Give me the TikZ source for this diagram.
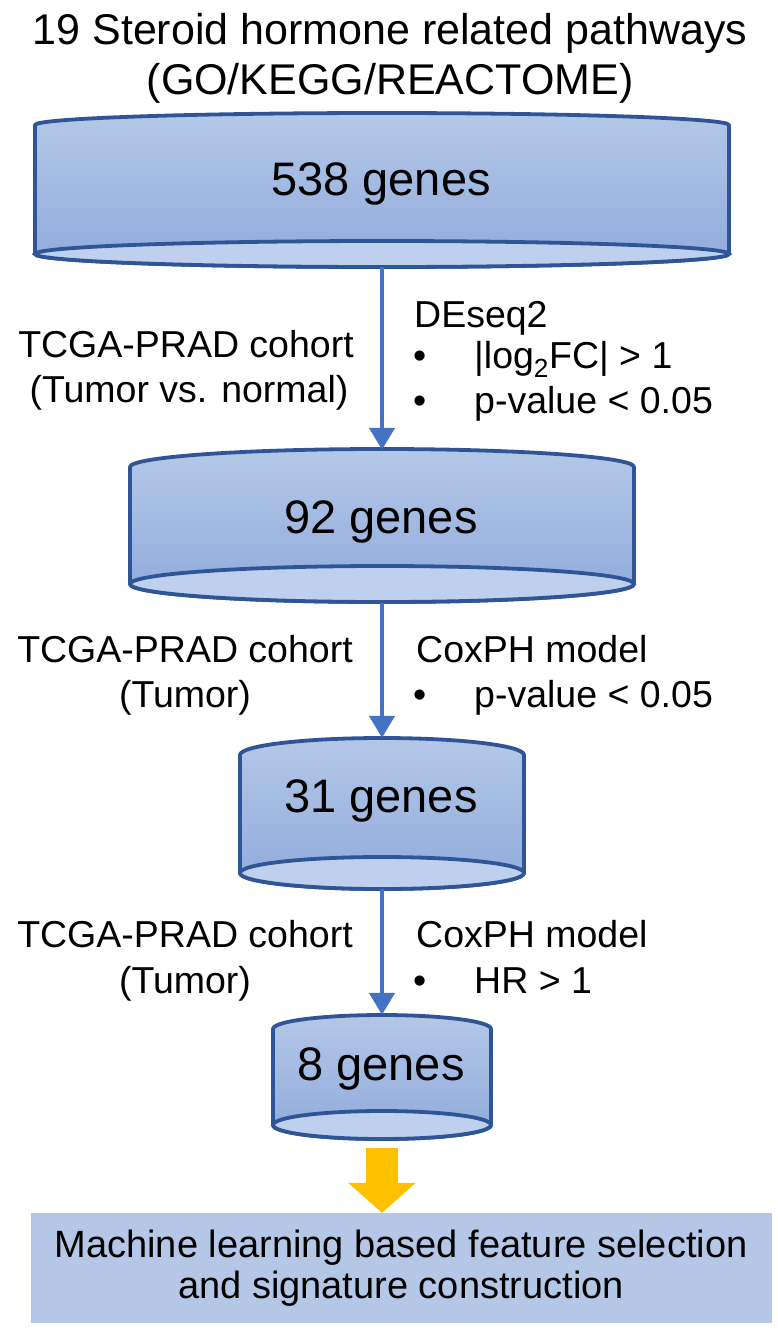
\documentclass[tikz,border=0pt]{standalone}
\usepackage{fontspec}
\setmainfont{Liberation Sans}
\usetikzlibrary{arrows.meta}
\definecolor{cylLine}{HTML}{2F5597}
\definecolor{cylTop}{HTML}{B4C7E7}
\definecolor{cylBot}{HTML}{8FAADC}
\definecolor{cylEnd}{HTML}{BFD0EE}
\definecolor{flowBlue}{HTML}{4472C4}
\definecolor{yellowArrow}{HTML}{FFC000}
\definecolor{boxBlue}{HTML}{B4C7E7}
\newcommand\drawcyl[6]{%
  \shade[top color=cylTop, bottom color=cylBot, draw=cylLine, line width=3.8pt, line join=round]
    (#1-#2,#3) arc[start angle=180,end angle=0,x radius=#2pt,y radius=#4pt]
    -- (#1+#2,#5) arc[start angle=0,end angle=-180,x radius=#2pt,y radius=#6pt] -- cycle;
  \filldraw[fill=cylEnd, draw=cylLine, line width=3.8pt] (#1,#5) ellipse[x radius=#2pt, y radius=#6pt];
}
\tikzset{
  titletext/.style={font=\fontsize{43}{50}\selectfont, anchor=base, inner sep=0},
  genestext/.style={font=\fontsize{47}{56}\selectfont, anchor=base, inner sep=0},
  lbl/.style={font=\fontsize{37.5}{45}\selectfont, anchor=base, inner sep=0},
  rlbl/.style={font=\fontsize{37.5}{45}\selectfont, anchor=base west, inner sep=0},
  cylbox/.style={draw=none, inner sep=0},
  flow/.style={draw=flowBlue, line width=4.5pt, -{Triangle[width=25pt,length=22pt]}},
  bigarrow/.style={draw=yellowArrow, line width=32pt, -{Triangle[width=66pt,length=30pt]}},
  mlbox/.style={fill=boxBlue, minimum width=741pt, minimum height=110pt, inner sep=0,
    align=center, font=\fontsize{38}{41}\selectfont}
}
\newcommand\bul{\makebox[61pt][l]{\textbullet}}
\begin{document}
\begin{tikzpicture}[x=1pt,y=-1pt]
\useasboundingbox (0,0) rectangle (778,1336);
% title
\node[titletext] (title1) at (390,44) {19 Steroid hormone related pathways};
\node[titletext] (title2) at (390,94) {(GO/KEGG/REACTOME)};
% cylinders
\drawcyl{382}{347}{125}{12}{254}{13}
\drawcyl{382}{252}{467}{18}{584}{18}
\drawcyl{382}{142}{755}{17}{873}{16}
\drawcyl{382}{109}{1029}{14}{1125}{14}
\node[cylbox, minimum width=694pt, minimum height=154pt] (cyl1) at (382,190) {};
\node[cylbox, minimum width=504pt, minimum height=153pt] (cyl2) at (382,526.5) {};
\node[cylbox, minimum width=284pt, minimum height=151pt] (cyl3) at (382,813.5) {};
\node[cylbox, minimum width=218pt, minimum height=124pt] (cyl4) at (382,1077) {};
\node[genestext] (g1) at (381,195) {538 genes};
\node[genestext] (g2) at (381,533) {92 genes};
\node[genestext] (g3) at (381,812) {31 genes};
\node[genestext] (g4) at (381,1080) {8 genes};
% arrows
\draw[flow] (cyl1.south) -- (cyl2.north);
\draw[flow] (cyl2.south) -- (cyl3.north);
\draw[flow] (cyl3.south) -- (cyl4.north);
% left labels
\node[lbl] (la1) at (186,357) {TCGA-PRAD cohort};
\node[lbl] (la2) at (189,402) {(Tumor vs. normal)};
\node[lbl] (lb1) at (185,662) {TCGA-PRAD cohort};
\node[lbl] (lb2) at (185,707) {(Tumor)};
\node[lbl] (lc1) at (185,947) {TCGA-PRAD cohort};
\node[lbl] (lc2) at (185,993) {(Tumor)};
% right labels
\node[rlbl] (ra1) at (414,327) {DEseq2};
\node[rlbl] (ra2) at (413,368) {\bul|log\textsubscript{2}FC| > 1};
\node[rlbl] (ra3) at (413,413) {\bul p-value < 0.05};
\node[rlbl] (rb1) at (416,662) {CoxPH model};
\node[rlbl] (rb2) at (413,707) {\bul p-value < 0.05};
\node[rlbl] (rc1) at (416,947) {CoxPH model};
\node[rlbl] (rc2) at (413,993) {\bul HR > 1};
% bottom box
\node[mlbox] (ml) at (401,1268) {Machine learning based feature selection\\and signature construction};
\draw[bigarrow] ([yshift=-9pt]cyl4.south) -- (cyl4.south |- ml.north);
\end{tikzpicture}
\end{document}
